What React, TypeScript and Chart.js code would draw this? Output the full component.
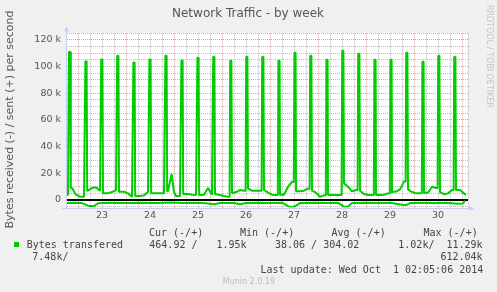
import React, { useEffect, useRef } from 'react';
import { Chart, registerables } from 'chart.js';

Chart.register(...registerables);

const GREEN = '#00cc00';
const GRID_GRAY = '#bdbdbd';
const GRID_RED = '#f29a9a';
const AXIS_BLUE = '#c8ccf0';

const TITLE = 'Network Traffic - by week';
const Y_TITLE = 'Bytes received (-) / sent (+) per second';
const SIDE_TEXT = 'RRDTOOL / TOBI OETIKER';

// x axis: hours since Sep 23 00:00
const X_MIN = -5.5;
const X_MAX = 195;
const Y_MIN = -5.6;
const Y_MAX = 125;

const xGridHours = [0, 6, 12, 18, 24, 30, 36, 42, 48, 54, 60, 66, 72, 78, 84, 90, 96, 102, 108, 114, 120, 126, 132, 138, 144, 150, 156, 162, 168, 174, 180, 186, 192, 195];
const dayHours = [12, 36, 60, 84, 108, 132, 156, 180];
const dayLabels = ['23', '24', '25', '26', '27', '28', '29', '30'];

const yGridValues = [-5, 0, 5, 10, 15, 20, 25, 30, 35, 40, 45, 50, 55, 60, 65, 70, 75, 80, 85, 90, 95, 100, 105, 110, 115, 120, 125];
const yLabelValues = [0, 20, 40, 60, 80, 100, 120];
const yLabels = ['0', '20 k', '40 k', '60 k', '80 k', '100 k', '120 k'];

// sent (+) baseline, values in k bytes/s : [hour, value]
const sentBaseline: [number, number][] = [
  [-5.5, 3.8], [-5, 4], [-3, 9], [-1, 4], [1, 2.5], [3, 2.5], [5, 7], [7, 9], [9, 9.5], [11, 7],
  [13, 5], [15, 5], [17, 6], [19, 7.5], [21, 6.3], [23, 6.3], [25, 5], [27, 2.5], [29, 3], [31, 3],
  [33, 3.5], [35, 6], [37, 5], [39, 5], [41, 5], [43, 5], [45, 6.5], [46.8, 19.5], [48, 6], [49, 3],
  [51, 3], [53, 4.5], [55, 4.5], [57, 4], [59, 3.8], [61, 3.8], [63, 4], [65, 9], [67, 4], [69, 4.4],
  [71, 3.8], [73, 3], [75, 2.5], [77, 5], [79, 6], [81, 7.5], [83, 7], [85, 8.8], [87, 7], [89, 7],
  [91, 7], [93, 7.5], [95, 5.5], [97, 4], [99, 3.8], [101, 3.8], [103, 4], [105, 10], [107, 13.5], [109, 8],
  [111, 6.5], [113, 7], [115, 8.5], [117, 7], [119, 5.5], [121, 2.5], [123, 3.5], [125, 3.8], [127, 3.8], [129, 3.8],
  [131, 3.8], [133, 12.5], [135, 10], [137, 6.5], [139, 7.5], [141, 7], [143, 4.5], [145, 3.8], [147, 3.8], [149, 3.8],
  [151, 3.8], [153, 4], [155, 5], [157, 5.5], [159, 6.3], [161, 8], [163, 13.8], [165, 8], [167, 6], [169, 5],
  [171, 5], [173, 5], [175, 5.5], [177, 10], [179, 9], [181, 6], [183, 4.4], [185, 5], [187, 7.5], [189, 7.5],
  [191, 7.5], [193, 5], [194, 3.8],
];

// sent (+) spikes every ~8 hours
const spikeHours = [-4.2, 4, 11.9, 19.9, 28, 36, 44, 52, 60, 67.9, 76.4, 84.4, 92.4, 100.5, 108.5, 116.4, 124.5, 132.4, 140.4, 148.5, 156.5, 164.4, 172.5, 180.4, 188.4];
const spikePeaks = [111.2, 104, 105.3, 108.2, 103.2, 105.3, 108.2, 104.6, 106.7, 107.5, 104.5, 107.5, 107.5, 104.5, 110.5, 108.2, 105.2, 112, 109.7, 105.2, 105.2, 110.5, 103.7, 108.2, 107.5];

// received (-), values in k bytes/s : [hour, value]
const received: [number, number][] = [
  [-5.5, -2.3], [-2, -2], [2, -2.3], [5, -4.2], [8, -4.6], [10, -2.4], [16, -2], [24, -2.3], [32, -2], [40, -2.3],
  [46, -1.8], [52, -2.3], [58, -2], [64, -2.4], [68, -3.2], [71, -2.3], [78, -2.3], [81, -3.2], [84, -2.3], [90, -2],
  [96, -2.3], [102, -2], [105, -4.6], [107, -5.5], [109, -4.2], [111, -2.3], [118, -2], [124, -2.3], [130, -2], [133, -5],
  [135, -4.8], [137, -2.3], [144, -2], [150, -2.3], [156, -2], [162, -3.6], [164, -3.8], [166, -2.3], [172, -2], [178, -2.3],
  [184, -2], [190, -2.8], [192.5, -2.6], [193.5, -0.5],
];

const legendHeader = [
  { text: 'Cur (-/+)', x: 149 },
  { text: 'Min (-/+)', x: 240 },
  { text: 'Avg (-/+)', x: 331.5 },
  { text: 'Max (-/+)', x: 423.5 },
];
const legendName = 'Bytes transfered';
const legendRow1 = [
  { text: '464.92 /', x: 149.3 },
  { text: '1.95k', x: 216.5 },
  { text: '38.06 / 304.02', x: 275 },
  { text: '1.02k/', x: 398.3 },
  { text: '11.29k', x: 446.5 },
];
const legendRow2 = [
  { text: '7.48k/', x: 32.3 },
  { text: '612.04k', x: 440.5 },
];
const LAST_UPDATE = 'Last update: Wed Oct  1 02:05:06 2014';
const VERSION = 'Munin 2.0.19';

function buildSent() {
  const pts: { x: number; y: number }[] = sentBaseline.map(([x, y]) => ({ x, y }));
  spikeHours.forEach((t, i) => {
    let before = sentBaseline[0];
    let after = sentBaseline[sentBaseline.length - 1];
    for (const p of sentBaseline) if (p[0] <= t - 0.6) before = p;
    for (let k = sentBaseline.length - 1; k >= 0; k--) if (sentBaseline[k][0] >= t + 0.6) after = sentBaseline[k];
    pts.push({ x: t - 0.6, y: before[1] });
    pts.push({ x: t - 0.3, y: spikePeaks[i] });
    pts.push({ x: t + 0.3, y: spikePeaks[i] });
    pts.push({ x: t + 0.6, y: after[1] });
  });
  pts.sort((a, b) => a.x - b.x);
  return pts;
}

const muninPlugin = {
  id: 'muninDecor',
  beforeDraw(chart: any) {
    const { ctx, chartArea: a } = chart;
    ctx.save();
    ctx.fillStyle = '#f0f0f0';
    ctx.fillRect(0, 0, chart.width, chart.height);
    ctx.fillStyle = '#ffffff';
    ctx.fillRect(a.left, a.top, a.right - a.left, a.bottom - a.top);
    ctx.restore();
  },
  beforeDatasetsDraw(chart: any) {
    const { ctx, chartArea: a } = chart;
    const y0 = chart.scales.y.getPixelForValue(0);
    ctx.save();
    ctx.strokeStyle = '#000000';
    ctx.lineWidth = 2;
    ctx.beginPath();
    ctx.moveTo(a.left, y0);
    ctx.lineTo(a.right, y0);
    ctx.stroke();
    ctx.restore();
  },
  afterDraw(chart: any) {
    const { ctx, chartArea: a } = chart;
    ctx.save();
    // axes
    ctx.strokeStyle = AXIS_BLUE;
    ctx.fillStyle = AXIS_BLUE;
    ctx.lineWidth = 1;
    const ax = Math.round(a.left) - 0.5;
    const ay = Math.round(a.bottom) + 0.5;
    ctx.beginPath();
    ctx.moveTo(ax, ay + 1);
    ctx.lineTo(ax, a.top - 4);
    ctx.moveTo(ax - 4, ay);
    ctx.lineTo(a.right + 1, ay);
    ctx.stroke();
    ctx.beginPath();
    ctx.moveTo(ax - 2.5, a.top - 2);
    ctx.lineTo(ax + 2.5, a.top - 2);
    ctx.lineTo(ax, a.top - 7);
    ctx.closePath();
    ctx.fill();
    ctx.beginPath();
    ctx.moveTo(a.right + 1, ay - 2.5);
    ctx.lineTo(a.right + 1, ay + 2.5);
    ctx.lineTo(a.right + 6, ay);
    ctx.closePath();
    ctx.fill();

    // title
    ctx.fillStyle = '#555555';
    ctx.font = '12px "DejaVu Sans"';
    ctx.textAlign = 'center';
    ctx.textBaseline = 'middle';
    ctx.fillText(TITLE, 248, 13.5);

    // y title
    ctx.save();
    ctx.translate(10, 119.5);
    ctx.rotate(-Math.PI / 2);
    ctx.font = '11px "DejaVu Sans"';
    ctx.fillText(Y_TITLE, 0, 0);
    ctx.restore();

    // side text
    ctx.save();
    ctx.translate(489, 5);
    ctx.rotate(Math.PI / 2);
    ctx.font = '8px "DejaVu Sans"';
    ctx.fillStyle = '#c4c4c4';
    ctx.textAlign = 'left';
    ctx.fillText(SIDE_TEXT, 0, 0);
    ctx.restore();

    // legend
    ctx.fillStyle = '#444444';
    ctx.font = '10px "DejaVu Sans Mono"';
    ctx.textAlign = 'left';
    legendHeader.forEach((h) => ctx.fillText(h.text, h.x, 233.5));
    ctx.fillText(legendName, 26.7, 245.5);
    legendRow1.forEach((h) => ctx.fillText(h.text, h.x, 245.5));
    legendRow2.forEach((h) => ctx.fillText(h.text, h.x, 257.5));
    ctx.fillText(LAST_UPDATE, 260.5, 270);
    ctx.fillStyle = GREEN;
    ctx.fillRect(14, 242, 5, 5);
    ctx.fillStyle = '#bbbbbb';
    ctx.font = '8px "DejaVu Sans"';
    ctx.fillText(VERSION, 222.7, 281.5);
    ctx.restore();
  },
};

export default function App() {
  const ref = useRef<HTMLCanvasElement | null>(null);

  useEffect(() => {
    document.body.style.margin = '0';
    const canvas = ref.current;
    if (!canvas) return;
    const chart = new Chart(canvas, {
      type: 'line',
      data: {
        datasets: [
          {
            label: 'sent',
            data: buildSent(),
            borderColor: GREEN,
            borderWidth: 2,
            pointRadius: 0,
            tension: 0,
            borderJoinStyle: 'bevel',
            fill: false,
          },
          {
            label: 'received',
            data: received.map(([x, y]) => ({ x, y })),
            borderColor: GREEN,
            borderWidth: 2,
            pointRadius: 0,
            tension: 0,
            borderJoinStyle: 'bevel',
            fill: false,
          },
        ],
      },
      options: {
        responsive: false,
        animation: false,
        devicePixelRatio: 1,
        events: [],
        layout: { padding: { left: 0, top: 33.3, right: 29, bottom: 0 } },
        plugins: {
          legend: { display: false },
          tooltip: { enabled: false },
          title: { display: false },
        },
        scales: {
          x: {
            type: 'linear',
            min: X_MIN,
            max: X_MAX,
            afterBuildTicks: (s: any) => {
              s.ticks = xGridHours.map((v) => ({ value: v }));
            },
            afterFit: (s: any) => {
              s.height = 292 - 207.5;
            },
            grid: {
              drawTicks: false,
              lineWidth: 1,
              color: (c: any) => (c.tick && c.tick.value % 24 === 0 ? GRID_RED : GRID_GRAY),
            },
            border: { display: false, dash: [1, 1] },
            ticks: {
              autoSkip: false,
              maxRotation: 0,
              minRotation: 0,
              padding: 2.5,
              color: '#555555',
              font: { family: 'DejaVu Sans', size: 9.5 },
              callback: (v: any) => {
                const i = dayHours.indexOf(Number(v));
                return i >= 0 ? dayLabels[i] : '';
              },
            },
          },
          y: {
            type: 'linear',
            min: Y_MIN,
            max: Y_MAX,
            afterBuildTicks: (s: any) => {
              s.ticks = yGridValues.map((v) => ({ value: v }));
            },
            afterFit: (s: any) => {
              s.width = 67;
            },
            grid: {
              drawTicks: false,
              lineWidth: 1,
              color: (c: any) => (c.tick && yLabelValues.indexOf(c.tick.value) >= 0 ? GRID_RED : GRID_GRAY),
            },
            border: { display: false, dash: [1, 1] },
            ticks: {
              autoSkip: false,
              padding: 6,
              color: '#555555',
              font: { family: 'DejaVu Sans', size: 9.5 },
              callback: (v: any) => {
                const i = yLabelValues.indexOf(Number(v));
                return i >= 0 ? yLabels[i] : '';
              },
            },
          },
        },
      },
      plugins: [muninPlugin],
    } as any);
    return () => chart.destroy();
  }, []);

  return (
    <div style={{ width: 497, height: 292 }}>
      <canvas ref={ref} width={497} height={292} style={{ display: 'block', width: 497, height: 292 }} />
    </div>
  );
}
